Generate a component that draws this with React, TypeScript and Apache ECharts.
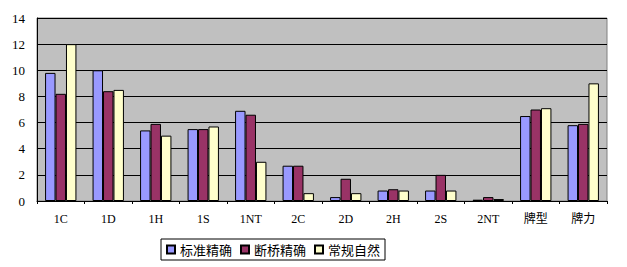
import React, { useEffect, useRef } from "react";
import * as echarts from "echarts";

const categories = ["1C", "1D", "1H", "1S", "1NT", "2C", "2D", "2H", "2S", "2NT", "牌型", "牌力"];
const seriesNames = ["标准精确", "断桥精确", "常规自然"];
const standardPrecision = [9.8, 10.0, 5.4, 5.5, 6.9, 2.7, 0.3, 0.8, 0.8, 0.1, 6.5, 5.8];
const brokenBridgePrecision = [8.2, 8.4, 5.9, 5.5, 6.6, 2.7, 1.7, 0.9, 2.0, 0.3, 7.0, 5.9];
const conventionalNatural = [12.0, 8.5, 5.0, 5.7, 3.0, 0.6, 0.6, 0.8, 0.8, 0.15, 7.1, 9.0];
const colors = ["#9999FF", "#993366", "#FFFFCC"];
const yTicks = [0, 2, 4, 6, 8, 10, 12, 14];

const FONT = "'Liberation Serif', 'Noto Sans CJK SC', serif";

export default function App() {
  const ref = useRef<HTMLDivElement>(null);
  useEffect(() => {
    document.body.style.margin = "0";
    if (!ref.current) return;
    const chart = echarts.init(ref.current, undefined, { renderer: "svg" });
    const data = [standardPrecision, brokenBridgePrecision, conventionalNatural];
    chart.setOption({
      animation: false,
      backgroundColor: "#ffffff",
      grid: {
        left: 37,
        top: 18,
        right: 20,
        bottom: 66,
        show: true,
        backgroundColor: "#C0C0C0",
        borderColor: "#808080",
        borderWidth: 1,
      },
      legend: {
        left: 161,
        top: 239,
        padding: [4, 5, 4, 5],
        borderColor: "#000",
        borderWidth: 1,
        icon: "rect",
        itemWidth: 8,
        itemHeight: 8,
        itemGap: 8,
        textStyle: { fontFamily: "'Noto Sans CJK SC', sans-serif", fontSize: 13, color: "#000" },
        data: seriesNames,
      },
      xAxis: {
        type: "category",
        data: categories,
        axisLine: { lineStyle: { color: "#000", width: 1 } },
        axisTick: { show: true, interval: 0, length: 3, lineStyle: { color: "#000" } },
        axisLabel: { margin: 12, fontSize: 12, color: "#000", fontFamily: FONT, interval: 0 },
      },
      yAxis: {
        type: "value",
        min: yTicks[0],
        max: yTicks[yTicks.length - 1],
        interval: 2,
        axisLine: { show: true, lineStyle: { color: "#000" } },
        axisTick: { show: false },
        axisLabel: { margin: 12, fontSize: 13, color: "#000", fontFamily: FONT },
        splitLine: { lineStyle: { color: "#000", width: 1 } },
      },
      series: seriesNames.map((name, i) => ({
        name,
        type: "bar",
        data: data[i],
        barGap: "0%",
        barCategoryGap: "34%",
        itemStyle: { color: colors[i], borderColor: "#000", borderWidth: 1 },
      })),
    });
    return () => chart.dispose();
  }, []);
  return <div ref={ref} style={{ width: 627, height: 267 }} />;
}
